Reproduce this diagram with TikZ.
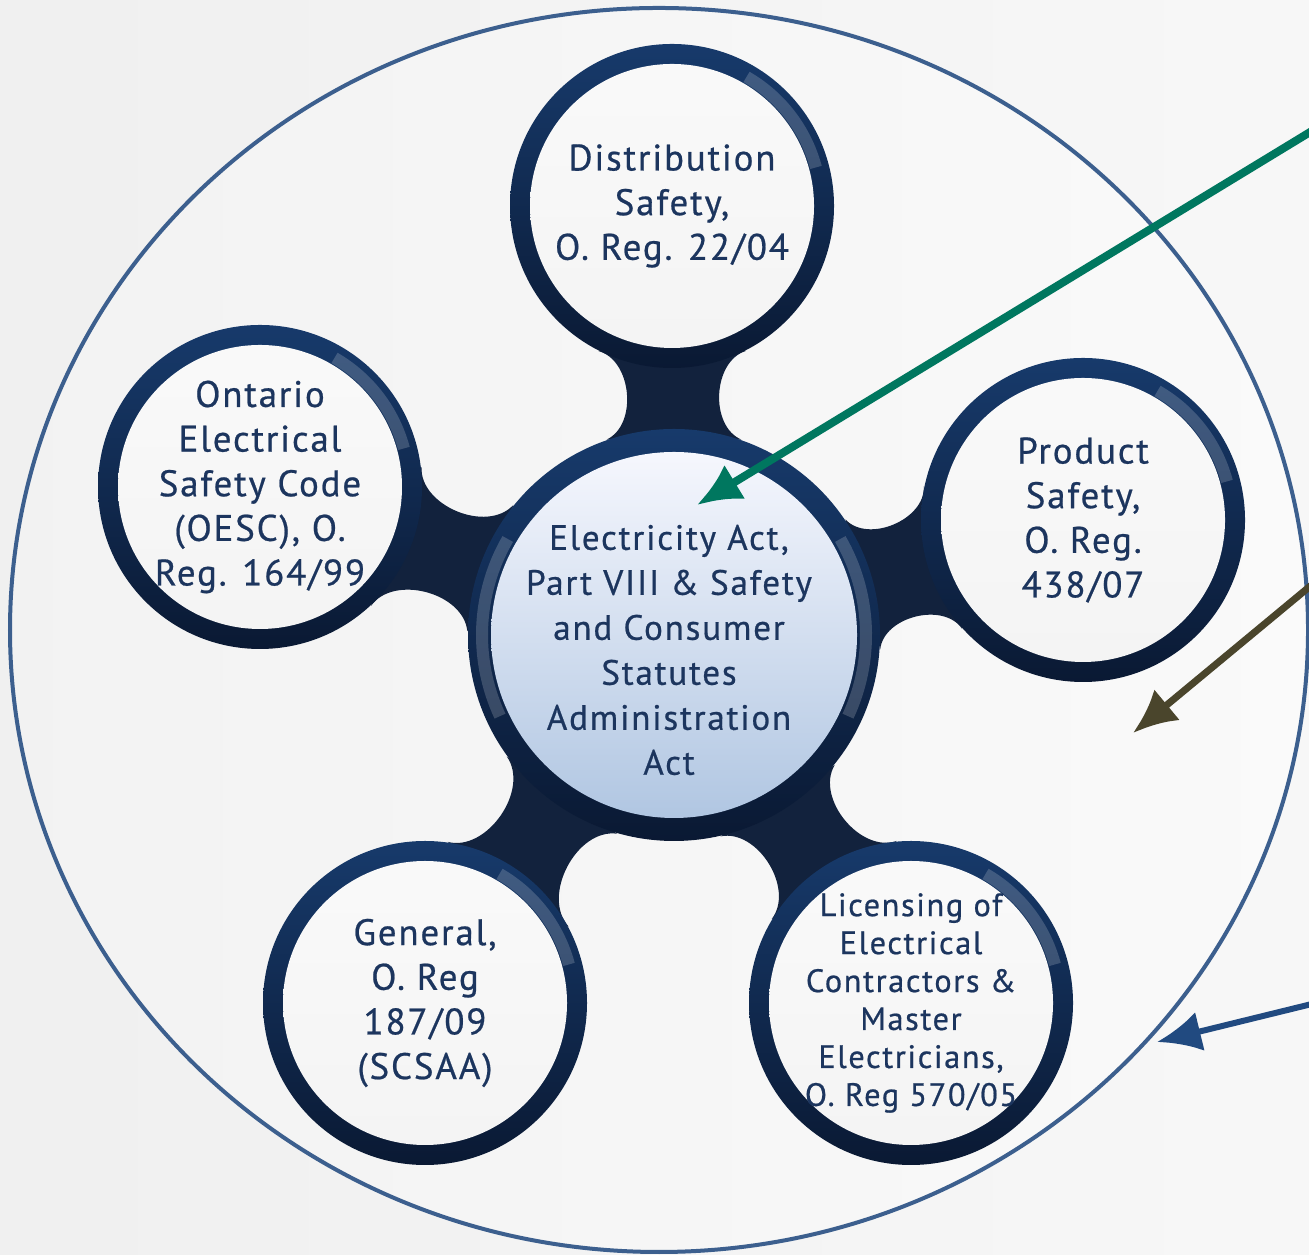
\documentclass[tikz,border=0pt]{standalone}
\usepackage{fontspec}
\setmainfont{PT Sans}
\newfontfamily\dinlike[LetterSpace=5, FakeBold=0.6]{PT Sans}
\usetikzlibrary{arrows.meta}
\pgfdeclarelayer{bg}
\pgfdeclarelayer{bands}
\pgfsetlayers{bg,bands,main}
\definecolor{navy}{HTML}{12223D}
\definecolor{ringtop}{HTML}{173A6B}
\definecolor{ringbot}{HTML}{0A1933}
\definecolor{txt}{HTML}{1C355E}
\definecolor{rim}{HTML}{3C5F8E}
\definecolor{greenarr}{HTML}{00775F}
\definecolor{olivearr}{HTML}{4A452C}
\definecolor{bluearr}{HTML}{214A80}
\tikzstyle{gloss}=[white, opacity=.18, line width=1.2mm]
\tikzstyle{sat}=[circle, minimum size=3.24cm, inner sep=0pt, top color=ringtop, bottom color=ringbot, text=txt, align=center,
  font=\dinlike\fontsize{10.5}{12.7}\selectfont,
  path picture={\shade[top color=white!96!gray, bottom color=white!91!gray] (path picture bounding box.center) circle (1.42cm);
    \draw[gloss] ([shift={(60:1.49cm)}]path picture bounding box.center) arc[start angle=60, end angle=15, radius=1.49cm];}]
\tikzstyle{hub}=[sat, minimum size=4.12cm,
  path picture={\shade[top color=white!95!blue!40!white, bottom color={rgb,255:red,172;green,195;blue,224}] (path picture bounding box.center) circle (1.83cm);
    \draw[gloss] ([shift={(205:1.92cm)}]path picture bounding box.center) arc[start angle=205, end angle=150, radius=1.92cm];
    \draw[gloss] ([shift={(-25:1.92cm)}]path picture bounding box.center) arc[start angle=-25, end angle=30, radius=1.92cm];}]
\tikzstyle{hubtext}=[text=txt, align=center, font=\dinlike\fontsize{10}{12.8}\selectfont]
\tikzstyle{pointer}=[-{Latex[length=4.4mm,width=4mm]}, line width=0.08cm]
% dark band from the hub to one satellite
\newcommand{\spoke}[2]{%
  \pgfmathsetmacro{\spHa}{mod(#2+19+360,360)}\pgfmathsetmacro{\spHb}{mod(#2-19+360,360)}%
  \pgfmathsetmacro{\spSa}{mod(#2+180-27+360,360)}\pgfmathsetmacro{\spSb}{mod(#2+180+27+360,360)}%
  \fill[navy] (hub.\spHa) to[bend right=70] (#1.\spSa) -- (#1.\spSb) to[bend right=70] (hub.\spHb) -- cycle;}

\begin{document}
\begin{tikzpicture}
  \useasboundingbox (0,0) rectangle (13.09,12.54);
  \clip (0,0) rectangle (13.09,12.54);
  \begin{pgfonlayer}{bg}
    \shade[left color=black!6, right color=black!3] (0,0) rectangle (13.09,12.54);
    \shade[left color=black!5, right color=black!2, draw=rim, line width=0.4mm] (6.59,6.24) ellipse [x radius=6.49, y radius=6.22];
  \end{pgfonlayer}

  % hub and satellites
  \node [hub] (hub) at (6.74,6.19) {};
  \node [hubtext] (hubtext) at ([xshift=-0.5mm, yshift=-1.5mm]hub.center) {Electricity Act,\\Part VIII \& Safety\\and Consumer\\Statutes\\Administration\\Act};
  \node [sat] (top) at (6.72,10.48) {Distribution\\Safety,\\O. Reg. 22/04};
  \node [sat] (left) at (2.60,7.67) {Ontario\\Electrical\\Safety Code\\(OESC), O.\\Reg. 164/99};
  \node [sat] (right) at (10.83,7.34) {Product\\Safety,\\O. Reg.\\438/07};
  \node [sat] (bl) at (4.25,2.51) {General,\\O. Reg\\187/09\\(SCSAA)};
  \node [sat, font=\dinlike\fontsize{9.2}{10.8}\selectfont] (br) at (9.11,2.51) {Licensing of\\Electrical\\Contractors \&\\Master\\Electricians,\\O. Reg 570/05};

  \begin{pgfonlayer}{bands}
    \spoke{top}{90.3}
    \spoke{right}{15.7}
    \spoke{left}{160.3}
    \spoke{bl}{235.9}
    \spoke{br}{302.8}
  \end{pgfonlayer}

  % pointers coming in from the right
  \coordinate (gfrom) at (13.25,11.31);
  \coordinate (gto) at (6.97,7.49);
  \coordinate (ofrom) at (13.2,6.76);
  \coordinate (oto) at (11.33,5.21);
  \coordinate (bfrom) at (13.2,2.52);
  \coordinate (bto) at (11.57,2.12);
  \draw[pointer, greenarr] (gfrom) -- (gto);
  \draw[pointer, olivearr, line width=0.07cm] (ofrom) -- (oto);
  \draw[pointer, bluearr, line width=0.06cm] (bfrom) -- (bto);
\end{tikzpicture}
\end{document}
